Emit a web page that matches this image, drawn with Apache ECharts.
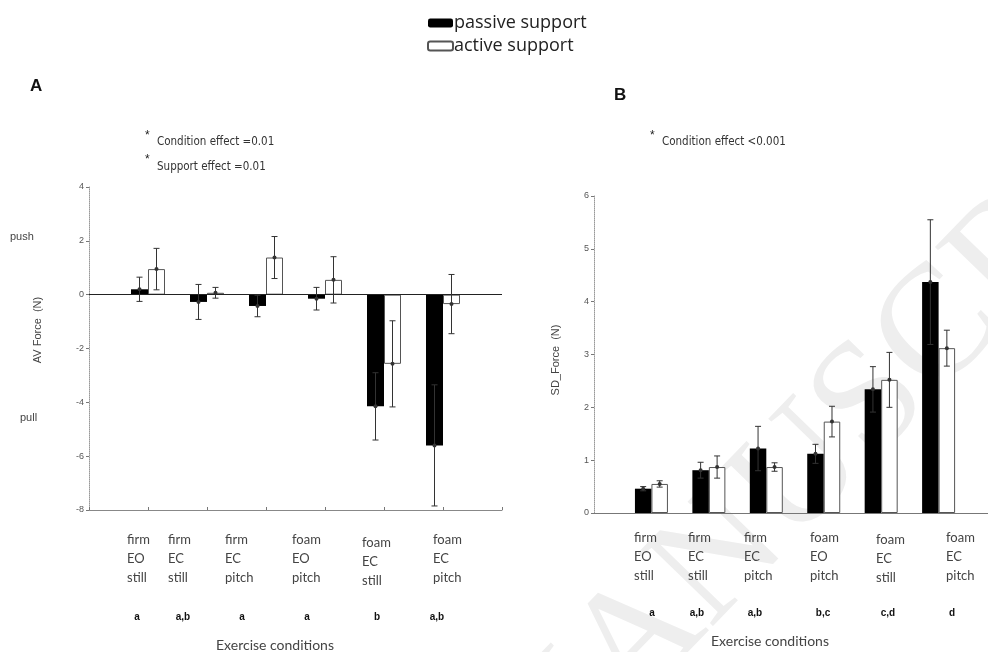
<!DOCTYPE html>
<html><head><meta charset="utf-8">
<script src="https://cdn.jsdelivr.net/npm/echarts@6/dist/echarts.min.js"></script>
<style>html,body{margin:0;padding:0;background:#fff}#c{width:988px;height:652px}</style>
</head><body><div id="c"></div>
<script>
// ---------- data ----------
const categories = ['firm\nEO\nstill','firm\nEC\nstill','firm\nEC\npitch','foam\nEO\npitch','foam\nEC\nstill','foam\nEC\npitch'];
const seriesNames = ['passive support','active support'];
const avPassive    = [0.20, -0.27, -0.42, -0.15, -4.15, -5.60];
const avPassiveErr = [0.45,  0.65,  0.40,  0.42,  1.25,  2.25];
const avActive     = [0.95,  0.07,  1.38,  0.55, -2.57, -0.35];
const avActiveErr  = [0.77,  0.20,  0.78,  0.86,  1.60,  1.10];
const sdPassive    = [0.46, 0.81, 1.22, 1.12, 2.34, 4.37];
const sdPassiveErr = [0.04, 0.15, 0.42, 0.18, 0.43, 1.18];
const sdActive     = [0.55, 0.87, 0.87, 1.73, 2.52, 3.12];
const sdActiveErr  = [0.06, 0.21, 0.08, 0.29, 0.52, 0.34];
const groupsA = ['a','a,b','a','a','b','a,b'];
const groupsB = ['a','a,b','a,b','b,c','c,d','d'];
const annotA = ['Condition effect =0.01','Support effect =0.01'];
const annotB = ['Condition effect <0.001'];
const yTitleA = 'AV Force  (N)';
const yTitleB = 'SD_Force  (N)';
const xTitle = 'Exercise conditions';
const directionLabels = ['push','pull'];
const panelLabels = ['A','B'];

// ---------- layout ----------
const labelAx = [127,168,225,292,362,433];
const labelAdy = [0,0,0,0,3,0];
const lettersAx = [137,183,242,307,377,437];
const labelBx = [634,688,744,810,876,946];
const labelBdy = [0,0,0,0,2,0];
const lettersBx = [652,697,755,823,888,952];
const BW_A = 17, BW_B = 16.5;

const chart = echarts.init(document.getElementById('c'), null, {renderer:'canvas'});
const SANS = "'Liberation Sans', Arial, sans-serif";
const NARROW = "'DejaVu Sans Condensed', 'Liberation Sans', sans-serif";
const LATO = "Lato, 'Open Sans', sans-serif";
const OPEN = "'Open Sans', Lato, sans-serif";

function barSeries(name, vals, idx, fill, border, bw) {
  return {
    name, type:'bar', xAxisIndex:idx, yAxisIndex:idx, barWidth:bw, barGap:'0%',
    data: vals.map((v,i)=>[i+1, v]),
    itemStyle:{color:fill, borderColor:border, borderWidth: border ? 1 : 0},
    emphasis:{disabled:true}, z:2
  };
}
function errSeries(means, errs, idx, side, bw) {
  return {
    type:'custom', xAxisIndex:idx, yAxisIndex:idx, z:5, silent:true,
    data: means.map((m,i)=>[i+1, m, errs[i]]),
    renderItem:(params, api)=>{
      const x = api.value(0), m = api.value(1), e = api.value(2);
      const t = api.coord([x, m+e]), b = api.coord([x, m-e]), c = api.coord([x, m]);
      const cx = t[0] + side*bw/2, cap = 3;
      const st = {stroke:'#333', lineWidth:1};
      return {type:'group', children:[
        {type:'line', shape:{x1:cx,y1:t[1],x2:cx,y2:b[1]}, style:st},
        {type:'line', shape:{x1:cx-cap,y1:t[1],x2:cx+cap,y2:t[1]}, style:st},
        {type:'line', shape:{x1:cx-cap,y1:b[1],x2:cx+cap,y2:b[1]}, style:st},
        {type:'circle', shape:{cx:cx, cy:c[1], r:2}, style:{fill:'#333'}}
      ]};
    }
  };
}
function txt(x, y, text, font, extra) {
  return {type:'text', x, y, z:100, silent:true,
    style:Object.assign({text, font, fill:'#333', align:'left', verticalAlign:'middle'}, extra||{})};
}

const graphics = [];
// watermark
graphics.push({type:'text', x:500, y:785, rotation:0.8, z:-10, silent:true,
  style:{text:'MANUSCRIPT', font:"160px 'Liberation Serif', serif", fill:'#eeeeee', align:'left', verticalAlign:'middle'}});
// panel letters
graphics.push(txt(30, 86, panelLabels[0], "bold 17px "+SANS, {fill:'#111'}));
graphics.push(txt(614, 95, panelLabels[1], "bold 17px "+SANS, {fill:'#111'}));
// annotations
graphics.push(txt(145, 136, '*', "12px "+SANS, {fill:'#222'}));
graphics.push(txt(157, 142, annotA[0], "11.5px "+NARROW, {fill:'#333'}));
graphics.push(txt(145, 160, '*', "12px "+SANS, {fill:'#222'}));
graphics.push(txt(157, 167, annotA[1], "11.5px "+NARROW, {fill:'#333'}));
graphics.push(txt(650, 136, '*', "12px "+SANS, {fill:'#222'}));
graphics.push(txt(662, 142, annotB[0], "11.5px "+NARROW, {fill:'#333'}));
// direction labels
graphics.push(txt(10, 237, directionLabels[0], "11px "+SANS, {fill:'#444'}));
graphics.push(txt(20, 418, directionLabels[1], "11px "+SANS, {fill:'#444'}));
// y titles
graphics.push({type:'text', x:38, y:330, rotation:Math.PI/2, z:100, silent:true,
  style:{text:yTitleA, font:"11px "+SANS, fill:'#444', align:'center', verticalAlign:'middle'}});
graphics.push({type:'text', x:556, y:360, rotation:Math.PI/2, z:100, silent:true,
  style:{text:yTitleB, font:"11px "+SANS, fill:'#444', align:'center', verticalAlign:'middle'}});
// category labels and group letters
categories.forEach((c,i)=>{
  graphics.push(txt(labelAx[i], 530.5+labelAdy[i], c, "13px "+LATO, {verticalAlign:'top', lineHeight:19, fill:'#444'}));
  graphics.push(txt(lettersAx[i], 617, groupsA[i], "bold 10px "+SANS, {align:'center', fill:'#111'}));
  graphics.push(txt(labelBx[i], 528.5+labelBdy[i], c, "13px "+LATO, {verticalAlign:'top', lineHeight:19, fill:'#444'}));
  graphics.push(txt(lettersBx[i], 613, groupsB[i], "bold 10px "+SANS, {align:'center', fill:'#111'}));
});
graphics.push(txt(275, 645, xTitle, "14px "+LATO, {align:'center', fill:'#444'}));
graphics.push(txt(770, 641, xTitle, "14px "+LATO, {align:'center', fill:'#444'}));

const yAxisCommon = {
  type:'value', splitLine:{show:false},
  axisLine:{show:true, lineStyle:{color:'#999', type:'dotted'}},
  axisTick:{show:true, length:3, lineStyle:{color:'#777'}},
  axisLabel:{fontSize:9, color:'#555', margin:5, fontFamily:SANS}
};
const xAxisCommon = {
  type:'value', min:0, interval:1, splitLine:{show:false},
  axisLabel:{show:false}
};

chart.setOption({
  backgroundColor:'#fff',
  animation:false,
  legend:{
    data:[{name:seriesNames[0], icon:'roundRect'},{name:seriesNames[1], icon:'roundRect'}],
    orient:'vertical', left:427, top:14, padding:0, itemWidth:25, itemHeight:9, itemGap:5,
    textStyle:{fontSize:18, fontFamily:OPEN, color:'#222', padding:[0,0,0,-4]},
    selectedMode:false
  },
  grid:[
    {left:89, top:187, width:413, height:323},
    {left:594, top:196, width:394, height:317}
  ],
  xAxis:[
    Object.assign({}, xAxisCommon, {gridIndex:0, max:7, position:'bottom',
      axisLine:{show:true, onZero:false, lineStyle:{color:'#888'}},
      axisTick:{show:true, inside:true, length:3, lineStyle:{color:'#777'}}}),
    Object.assign({}, xAxisCommon, {gridIndex:1, max:6.86, position:'bottom',
      axisLine:{show:true, onZero:false, lineStyle:{color:'#777'}},
      axisTick:{show:false}})
  ],
  yAxis:[
    Object.assign({}, yAxisCommon, {gridIndex:0, min:-8, max:4, interval:2}),
    Object.assign({}, yAxisCommon, {gridIndex:1, min:0, max:6, interval:1})
  ],
  series:[
    Object.assign(barSeries(seriesNames[0], avPassive, 0, '#000', null, BW_A), {
      markLine:{silent:true, symbol:'none', label:{show:false},
        lineStyle:{color:'#222', type:'solid', width:1}, data:[{yAxis:0}]}
    }),
    barSeries(seriesNames[1], avActive, 0, '#fff', '#555', BW_A),
    errSeries(avPassive, avPassiveErr, 0, -1, BW_A),
    errSeries(avActive, avActiveErr, 0, 1, BW_A),
    barSeries(seriesNames[0], sdPassive, 1, '#000', null, BW_B),
    barSeries(seriesNames[1], sdActive, 1, '#fff', '#555', BW_B),
    errSeries(sdPassive, sdPassiveErr, 1, -1, BW_B),
    errSeries(sdActive, sdActiveErr, 1, 1, BW_B)
  ],
  graphic:{elements:graphics}
});
</script>
</body></html>
